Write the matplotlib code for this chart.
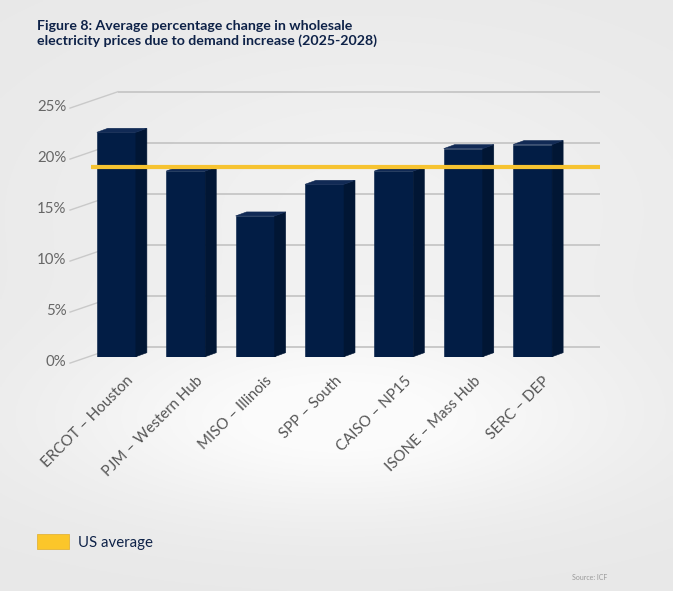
import numpy as np
import matplotlib
matplotlib.use("Agg")
import matplotlib.pyplot as plt
from matplotlib.patches import Polygon, Patch

# data
regions = ["ERCOT – Houston", "PJM – Western Hub", "MISO – Illinois", "SPP – South",
           "CAISO – NP15", "ISONE – Mass Hub", "SERC – DEP"]
change_pct = [22.0, 18.2, 13.8, 16.9, 18.2, 20.4, 20.8]
us_average = 18.6
y_ticks = [0, 5, 10, 15, 20, 25]
y_tick_labels = ["0%", "5%", "10%", "15%", "20%", "25%"]

NAVY = "#021d45"
NAVY_SIDE = "#011634"
NAVY_TOP = "#112a55"
YELLOW = "#f6c331"
GRID = "#c9c9c9"
TEXT_GRAY = "#555555"
TITLE_NAVY = "#0e2248"

W, H = 673, 591
fig = plt.figure(figsize=(W / 100, H / 100), dpi=100)

# soft grey background with a white glow in the lower middle
bg = fig.add_axes([0, 0, 1, 1], zorder=-10)
gx, gy = np.meshgrid(np.linspace(0, 1, 300), np.linspace(0, 1, 300))
glow = np.exp(-((gx - 0.5) / 0.42) ** 2 - ((gy - 0.72) / 0.16) ** 2)
glow2 = np.exp(-((gx - 0.55) / 0.5) ** 2 - ((gy - 0.35) / 0.3) ** 2)
shade = 0.91 + 0.075 * np.clip(glow + 0.5 * glow2, 0, 1)
bg.imshow(np.dstack([shade] * 3), extent=[0, 1, 1, 0], aspect="auto")
bg.set_axis_off()

# front plane of the chart, mapped so one category = 69.4 px, 1% = 10.2 px
ax_left, ax_right, ax_zero, ax_h = 47, 602, 356.7, 255
ax = fig.add_axes([ax_left / W, (H - ax_zero) / H, (ax_right - ax_left) / W, ax_h / H])
ax.set_xlim(-1, 7)
ax.set_ylim(0, 25)
ax.set_axis_off()
px_x = (ax_right - ax_left) / 8
px_y = ax_h / 25

x = np.arange(len(regions))
bar_w = 39 / px_x
ddx, ddy = 11 / px_x, 4 / px_y        # bar depth
back_dy = 10 / px_y                   # back wall lift
wall_x0, wall_x1 = (118 - ax_left) / px_x - 1, (600 - ax_left) / px_x - 1
side_x0, side_dy = (70 - ax_left) / px_x - 1, 6.4 / px_y

# back wall gridlines and slanted side-wall lines
for v, lab in zip(y_ticks, y_tick_labels):
    ax.plot([wall_x0, wall_x1], [v + back_dy, v + back_dy], color=GRID, lw=1.4,
            zorder=1, clip_on=False, solid_capstyle="butt")
    ax.plot([side_x0, wall_x0], [v - side_dy, v + back_dy], color=GRID, lw=1.0,
            zorder=1, clip_on=False)
    ax.text(side_x0 - 0.05, v - 5 / px_y, lab, ha="right", va="center",
            fontsize=10.8, color="#666666", family="Lato")

# pseudo-3D bars
ax.bar(x, change_pct, width=bar_w, color=NAVY, edgecolor=NAVY, lw=0.4, zorder=3)
for xi, v in zip(x, change_pct):
    r, l = xi + bar_w / 2, xi - bar_w / 2
    ax.add_patch(Polygon([(r, 0), (r + ddx, ddy), (r + ddx, v + ddy), (r, v)],
                         closed=True, facecolor=NAVY_SIDE, edgecolor=NAVY_SIDE,
                         lw=0.4, zorder=3))
    ax.add_patch(Polygon([(l, v), (l + ddx, v + ddy), (r + ddx, v + ddy), (r, v)],
                         closed=True, facecolor=NAVY_TOP, edgecolor=NAVY_TOP,
                         lw=0.4, zorder=3))

# US average line
line_x0 = (91 - ax_left) / px_x - 1
ax.plot([line_x0, wall_x1], [us_average, us_average], color=YELLOW, lw=3,
        zorder=5, clip_on=False, solid_capstyle="butt")

# rotated category labels
for xi, lab in zip(x, regions):
    ax.text(xi + 15 / px_x, -22 / px_y, lab, rotation=45, rotation_mode="anchor",
            ha="right", va="center", fontsize=10.8, color=TEXT_GRAY, family="Lato")

fig.text(37 / W, 1 - 20 / H,
         "Figure 8: Average percentage change in wholesale\n"
         "electricity prices due to demand increase (2025-2028)",
         ha="left", va="top", fontsize=10.2, fontweight="bold", color=TITLE_NAVY,
         family="Lato", linespacing=1.2)

fig.legend(handles=[Patch(facecolor="#fbc62a", edgecolor="#e3b43a", lw=0.6, label="US average")],
           loc="center left", bbox_to_anchor=(37 / W, 1 - 542 / H), frameon=False,
           borderpad=0, borderaxespad=0, handlelength=2.1, handleheight=1.1,
           handletextpad=0.6, prop={"family": "Lato", "size": 10.8}, labelcolor=TITLE_NAVY)

fig.text(607 / W, 1 - 578 / H, "Source: ICF", ha="right", va="center",
         fontsize=5, color="#9a9a9a", family="Lato")

fig.savefig("out.png", dpi=100)
